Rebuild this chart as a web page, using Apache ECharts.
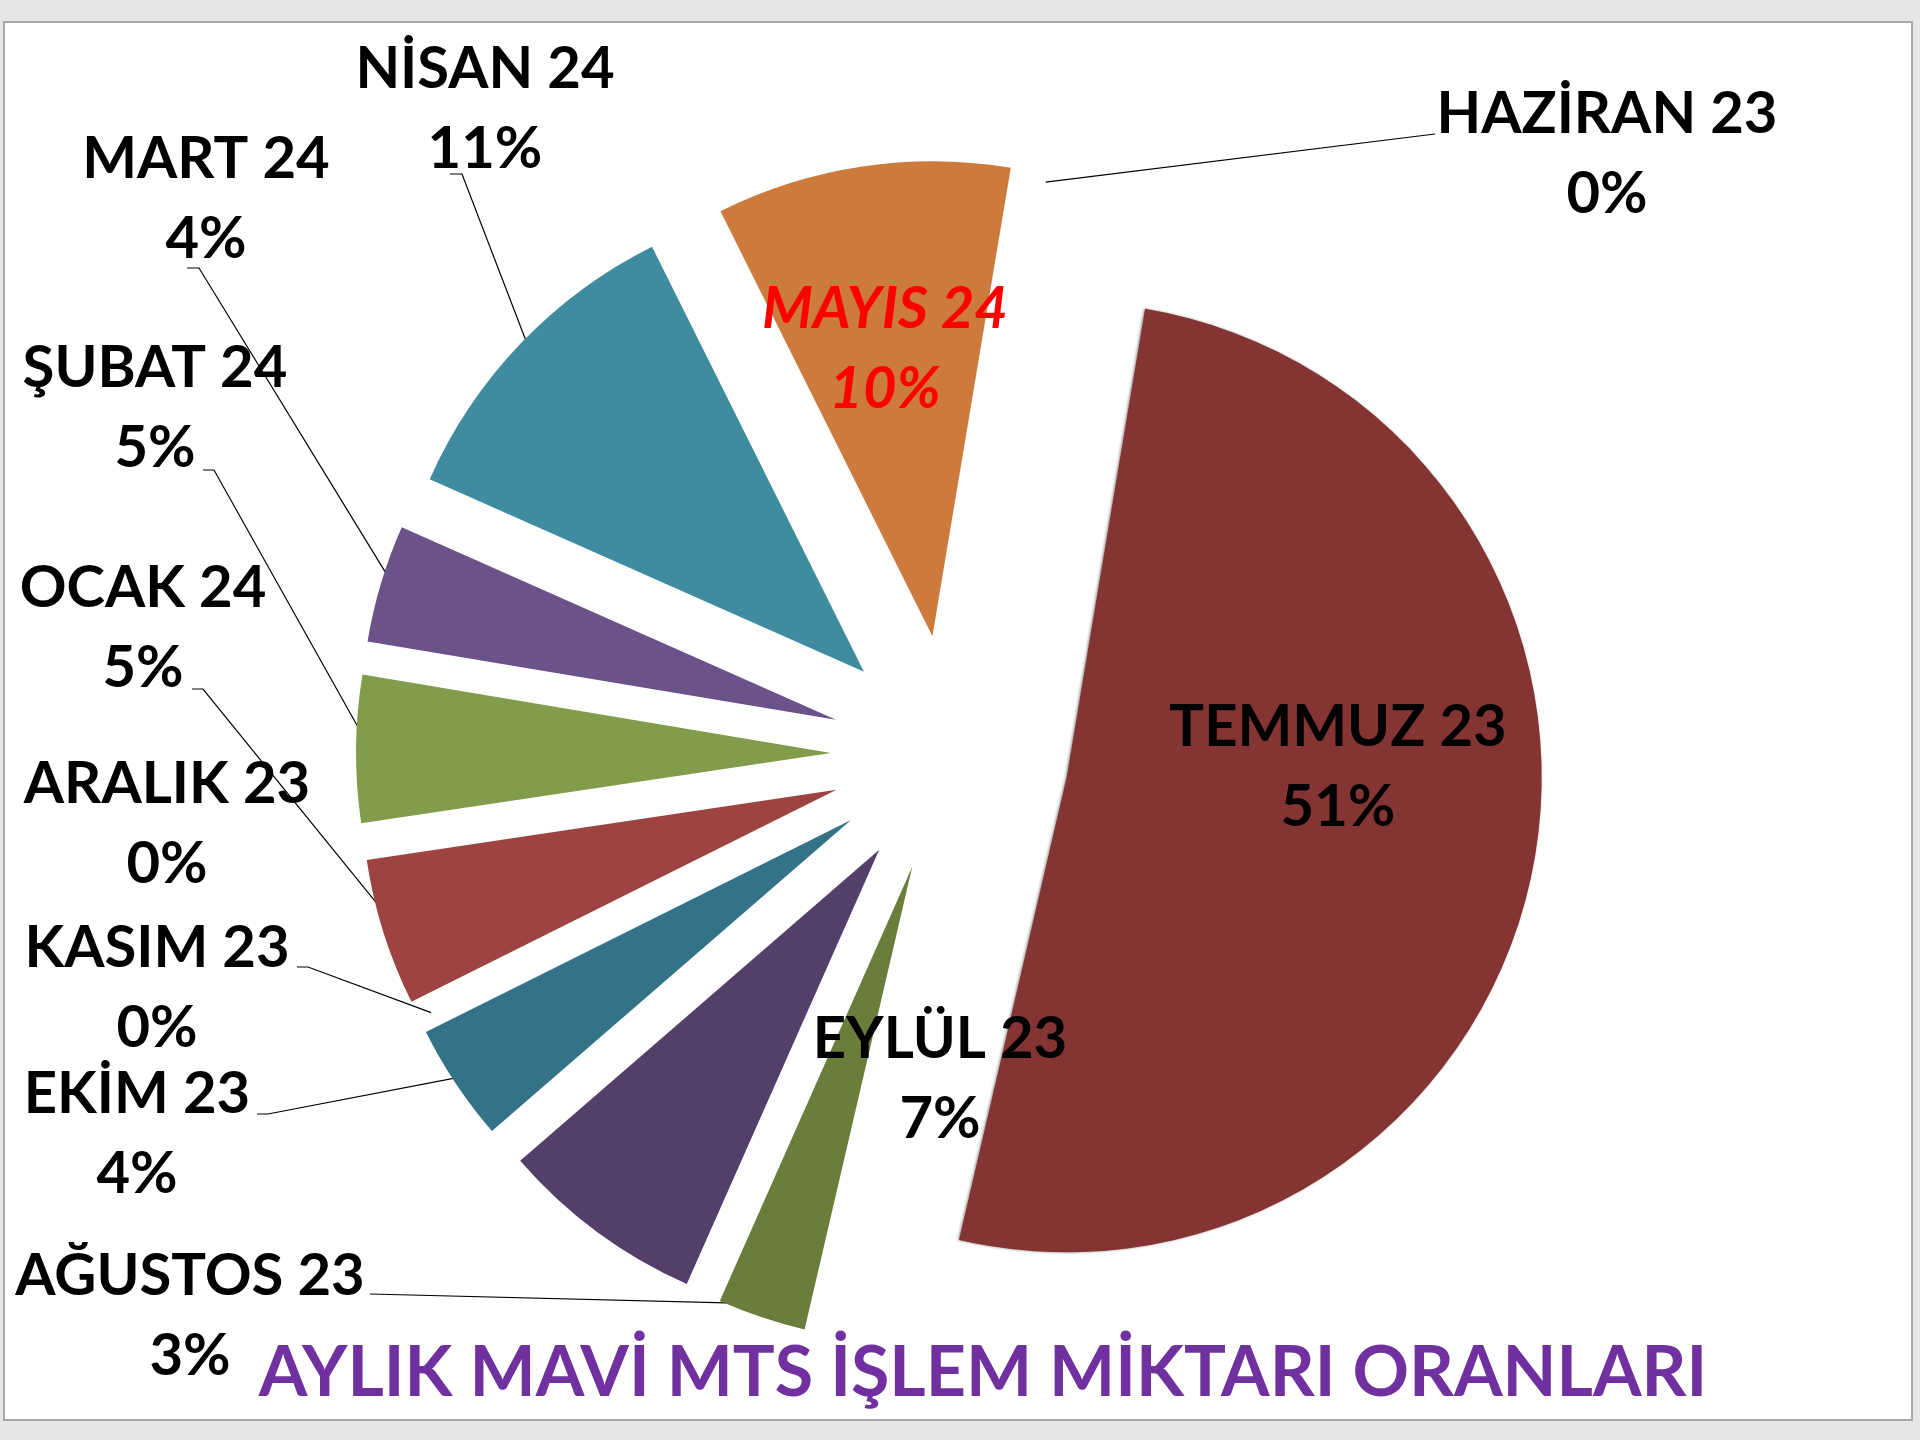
<!DOCTYPE html>
<html>
<head>
<meta charset="utf-8">
<script src="https://cdn.jsdelivr.net/npm/echarts@6/dist/echarts.min.js"></script>
<style>
  html, body { margin: 0; padding: 0; background: #e6e6e6; }
  #chart { width: 1920px; height: 1440px; }
</style>
</head>
<body>
<div id="chart"></div>
<script>
// Monthly shares (%) of blue MTS transactions, June 2023 – May 2024
const months = ['HAZİRAN 23', 'TEMMUZ 23', 'AĞUSTOS 23', 'EYLÜL 23', 'EKİM 23', 'KASIM 23',
                'ARALIK 23', 'OCAK 24', 'ŞUBAT 24', 'MART 24', 'NİSAN 24', 'MAYIS 24'];
const shares = [0, 51, 3, 7, 4, 0, 0, 5, 5, 4, 11, 10];
const sliceColors = ['#4f81bd', '#843432', '#6a7d3a', '#543f6b', '#337287', '#c0504d',
                     '#2c4d75', '#9d4341', '#819c4a', '#6b5389', '#3f8ca1', '#cc7b3c'];
const titleText = 'AYLIK MAVİ MTS İŞLEM MİKTARI ORANLARI';

const FONT = 'Lato, "Open Sans", sans-serif';
const PIE_CENTER = [950, 754];
const PIE_RADIUS = 475;
const EXPLODE = 119;
const START_ANGLE = 80.5;

// Where each two-line label sits (block centre) and where its leader meets the text
const labelPlacement = {
  'HAZİRAN 23': { x: 1607, y: 154, lead: [[1435, 134], [1435, 134]] },
  'TEMMUZ 23':  { x: 1338, y: 767 },
  'AĞUSTOS 23': { x: 190,  y: 1316, lead: [[370, 1294], [370, 1294]] },
  'EYLÜL 23':   { x: 940,  y: 1079 },
  'EKİM 23':    { x: 137,  y: 1134, lead: [[268, 1114], [257, 1114]] },
  'KASIM 23':   { x: 157,  y: 988,  lead: [[308, 967], [297, 967]] },
  'ARALIK 23':  { x: 167,  y: 824 },
  'OCAK 24':    { x: 143,  y: 628,  lead: [[203, 689], [192, 689]] },
  'ŞUBAT 24':   { x: 155,  y: 408,  lead: [[214, 470], [203, 470]] },
  'MART 24':    { x: 206,  y: 199,  lead: [[199, 268], [187, 268]] },
  'NİSAN 24':   { x: 485,  y: 109,  lead: [[462, 174], [450, 174]] },
  'MAYIS 24':   { x: 885,  y: 349 }
};

const chart = echarts.init(document.getElementById('chart'), null, { renderer: 'canvas' });

// Exploded slices: every slice is pulled out along its bisector
const sliceData = months.map((m, i) => {
  const style = { color: sliceColors[i] };
  if (m === 'TEMMUZ 23') {
    Object.assign(style, { shadowColor: 'rgba(0,0,0,0.45)', shadowBlur: 3, shadowOffsetX: -1 });
  }
  return { name: m, value: shares[i], selected: true, itemStyle: style };
});

// Same values, drawn invisibly, carrying the data labels and their leader lines
const labelData = months.map((m, i) => {
  const item = {
    name: m,
    value: shares[i],
    labelLine: { show: !!labelPlacement[m].lead }
  };
  if (m === 'MAYIS 24') item.label = { color: '#ff0000', fontStyle: 'italic' };
  return item;
});

const common = {
  type: 'pie',
  center: PIE_CENTER,
  radius: PIE_RADIUS,
  startAngle: START_ANGLE,
  clockwise: true,
  avoidLabelOverlap: false,
  minShowLabelAngle: 0,
  emphasis: { disabled: true, scale: false }
};

chart.setOption({
  backgroundColor: '#e6e6e6',
  animation: false,
  graphic: [
    {
      type: 'rect',
      z: 0,
      shape: { x: 4, y: 22, width: 1908, height: 1398 },
      style: { fill: '#ffffff', stroke: '#a9a9a9', lineWidth: 2 }
    },
    {
      type: 'text',
      z: 10,
      x: 983,
      y: 1373,
      style: {
        text: titleText,
        fill: '#7030a0',
        fontFamily: FONT,
        fontWeight: 'bold',
        fontSize: 70,
        textAlign: 'center',
        textVerticalAlign: 'middle'
      }
    }
  ],
  series: [
    Object.assign({}, common, {
      name: 'slices',
      selectedMode: 'multiple',
      selectedOffset: EXPLODE,
      itemStyle: { borderWidth: 0 },
      select: { itemStyle: { borderWidth: 0 } },
      label: { show: false },
      labelLine: { show: false },
      data: sliceData
    }),
    Object.assign({}, common, {
      name: 'labels',
      silent: true,
      selectedMode: false,
      itemStyle: { color: 'rgba(0,0,0,0)', borderWidth: 0 },
      label: {
        show: true,
        position: 'outside',
        color: '#000000',
        fontFamily: FONT,
        fontWeight: 'bold',
        fontSize: 58,
        lineHeight: 80,
        formatter: p => p.name + '\n' + Math.round(p.percent) + '%'
      },
      labelLine: {
        lineStyle: { color: '#000000', width: 1.2 }
      },
      labelLayout: function (params) {
        const place = labelPlacement[months[params.dataIndex]];
        const out = { x: place.x, y: place.y, align: 'center', verticalAlign: 'middle' };
        if (place.lead) {
          const lay = chart.getModel().getSeriesByIndex(1).getData().getItemLayout(params.dataIndex);
          const mid = (lay.startAngle + lay.endAngle) / 2;
          const reach = EXPLODE + lay.r * 0.97;
          const tip = [lay.cx + Math.cos(mid) * reach, lay.cy + Math.sin(mid) * reach];
          out.labelLinePoints = [tip, place.lead[0], place.lead[1]];
        }
        return out;
      },
      data: labelData
    })
  ]
});
</script>
</body>
</html>
